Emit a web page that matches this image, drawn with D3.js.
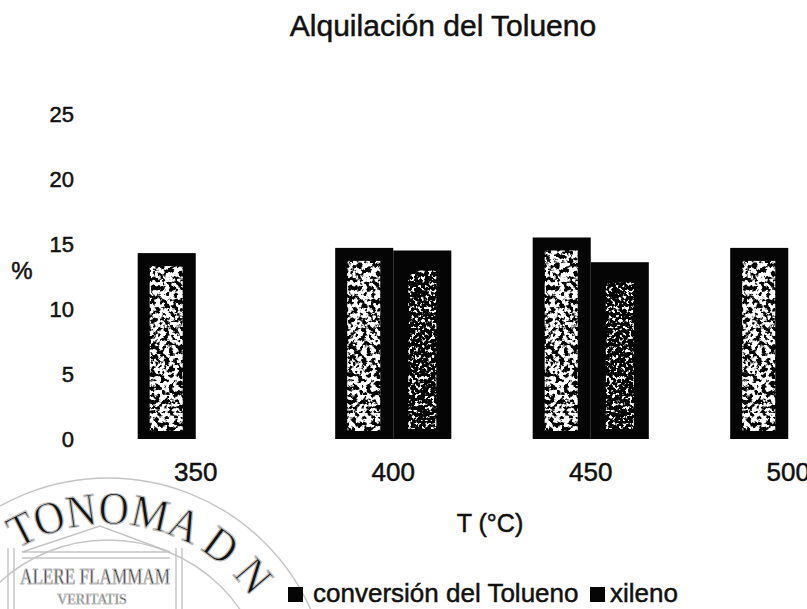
<!DOCTYPE html>
<html>
<head>
<meta charset="utf-8">
<script src="https://cdn.jsdelivr.net/npm/d3@7"></script>
<style>
  body { margin: 0; background: #fff; }
  text { font-family: "Liberation Sans", Arial, sans-serif; fill: #111; }
  .ink { stroke: #111; stroke-width: 0.5px; }
</style>
</head>
<body>
<script>
// data
var temps = ["350", "400", "450", "500"];
var seriesNames = ["conversión del Tolueno", "xileno"];
var conversion = [14.3, 14.7, 15.5, 14.7];
var xileno = [null, 14.5, 13.6, null];
var yTicks = [0, 5, 10, 15, 20, 25];

var width = 807, height = 609;

var svg = d3.select("body").append("svg")
    .attr("width", width)
    .attr("height", height);

// speckle texture, like the grey fill after scanning
var defs = svg.append("defs");
function speckle(id, freq, gain, bias) {
    var f = defs.append("filter").attr("id", id)
        .attr("x", 0).attr("y", 0).attr("width", 1).attr("height", 1);
    f.append("feTurbulence").attr("type", "fractalNoise")
        .attr("baseFrequency", freq).attr("numOctaves", 3).attr("seed", 7);
    f.append("feColorMatrix").attr("type", "matrix")
        .attr("values", "0 0 0 0 1  0 0 0 0 1  0 0 0 0 1  " + gain + " 0 0 0 " + bias);
    f.append("feComposite").attr("in2", "SourceAlpha").attr("operator", "in");
}
speckle("spkConv", 0.22, 10, -4.3);
speckle("spkXil", 0.3, 12, -6.6);

// faint seal of the scanned page (watermark, lower left)
var seal = svg.append("g")
    .attr("fill", "none")
    .attr("stroke", "#c4c4c4")
    .attr("stroke-width", 1.4);
var sc = [108, 700];
seal.append("circle").attr("cx", sc[0]).attr("cy", sc[1]).attr("r", 222);
seal.append("circle").attr("cx", sc[0]).attr("cy", sc[1]).attr("r", 160);
var ringPath = d3.path();
ringPath.arc(sc[0], sc[1], 176, -Math.PI / 2 - 0.54, -Math.PI / 2 + 1.0);
defs.append("path").attr("id", "ring").attr("d", ringPath.toString());
seal.append("text")
    .style("font-family", "Liberation Serif, serif")
    .style("font-size", "46px")
    .attr("fill", "none").attr("stroke", "#bdbdbd").attr("stroke-width", 1.2)
    .append("textPath").attr("href", "#ring")
    .attr("textLength", 262).attr("lengthAdjust", "spacingAndGlyphs")
    .text("TONOMA D N");
// temple front
seal.append("path").attr("d", "M22,552 L100,526 L170,552 Z");
seal.append("path").attr("d", "M22,558 L170,558");
seal.append("path").attr("d", "M8,548 L8,609 M14,548 L14,609 M176,548 L176,609 M182,548 L182,609");
seal.append("text")
    .attr("x", 95).attr("y", 584)
    .attr("text-anchor", "middle")
    .style("font-family", "Liberation Serif, serif")
    .style("font-size", "23px")
    .attr("fill", "none").attr("stroke", "#bdbdbd").attr("stroke-width", 1)
    .attr("textLength", 150).attr("lengthAdjust", "spacingAndGlyphs")
    .text("ALERE FLAMMAM");
seal.append("text")
    .attr("x", 92).attr("y", 604)
    .attr("text-anchor", "middle")
    .style("font-family", "Liberation Serif, serif")
    .style("font-size", "14px")
    .attr("fill", "none").attr("stroke", "#c4c4c4").attr("stroke-width", 0.8)
    .text("VERITATIS");

var x0 = d3.scaleBand()
    .domain(temps)
    .range([97, 887])
    .paddingInner(0.412)
    .paddingOuter(0.206);

var x1 = d3.scaleBand()
    .domain(seriesNames)
    .range([0, x0.bandwidth()]);

var y = d3.scaleLinear()
    .domain([0, 25])
    .range([439, 114]);

// title
svg.append("text")
    .attr("class", "ink")
    .attr("x", 443).attr("y", 36)
    .attr("text-anchor", "middle")
    .style("font-size", "30px")
    .text("Alquilación del Tolueno");

// y axis, labels only
var yAxis = svg.append("g")
    .attr("transform", "translate(74,0)")
    .call(d3.axisLeft(y).tickValues(yTicks).tickSize(0).tickPadding(0));
yAxis.select(".domain").remove();
yAxis.selectAll("text").attr("class", "ink").attr("fill", "#111")
    .style("font-size", "22px")
    .style("font-family", "Liberation Sans, Arial, sans-serif");

svg.append("text")
    .attr("class", "ink")
    .attr("x", 22).attr("y", 279)
    .attr("text-anchor", "middle")
    .style("font-size", "24px")
    .text("%");

// x axis, labels only
var xAxis = svg.append("g")
    .attr("transform", "translate(0," + y(0) + ")")
    .call(d3.axisBottom(x0).tickSize(0).tickPadding(24));
xAxis.select(".domain").remove();
xAxis.selectAll("text").attr("class", "ink").attr("fill", "#111")
    .style("font-size", "26px")
    .style("font-family", "Liberation Sans, Arial, sans-serif");

svg.append("text")
    .attr("class", "ink")
    .attr("x", 490).attr("y", 532)
    .attr("text-anchor", "middle")
    .style("font-size", "25px")
    .text("T (°C)");

// bars
var rows = temps.map(function(t, i) {
    return [
        {temp: t, name: seriesNames[0], value: conversion[i]},
        {temp: t, name: seriesNames[1], value: xileno[i]}
    ];
});

var groups = svg.selectAll("g.grupo")
    .data(rows)
    .enter().append("g")
    .attr("class", "grupo")
    .attr("transform", function(d, i) { return "translate(" + x0(temps[i]) + ",0)"; });

var bars = groups.selectAll("g.barra")
    .data(function(d) { return d.filter(function(b) { return b.value != null; }); })
    .enter().append("g")
    .attr("class", "barra");

bars.append("rect")
    .attr("x", function(d) { return x1(d.name); })
    .attr("y", function(d) { return y(d.value); })
    .attr("width", x1.bandwidth())
    .attr("height", function(d) { return y(0) - y(d.value); })
    .attr("fill", "#050505");

// inner lighter part
bars.append("rect")
    .attr("x", function(d) { return x1(d.name) + (d.name == seriesNames[0] ? 12 : 15); })
    .attr("y", function(d) { return y(d.value) + (d.name == seriesNames[0] ? 13 : 20); })
    .attr("width", function(d) { return x1.bandwidth() - (d.name == seriesNames[0] ? 25 : 30); })
    .attr("height", function(d) { return y(0) - y(d.value) - (d.name == seriesNames[0] ? 21 : 30); })
    .attr("fill", "#fff")
    .attr("filter", function(d) { return d.name == seriesNames[0] ? "url(#spkConv)" : "url(#spkXil)"; });

// legend
var legend = svg.append("g").attr("transform", "translate(288,602)");
var legX = [0, 302];
seriesNames.forEach(function(n, i) {
    legend.append("rect")
        .attr("x", legX[i]).attr("y", -15)
        .attr("width", 15).attr("height", 15)
        .attr("fill", "#050505");
    legend.append("text")
        .attr("class", "ink")
        .attr("x", legX[i] + 25 - i * 5).attr("y", 0)
        .style("font-size", "26px")
        .text(n);
});
</script>
</body>
</html>
